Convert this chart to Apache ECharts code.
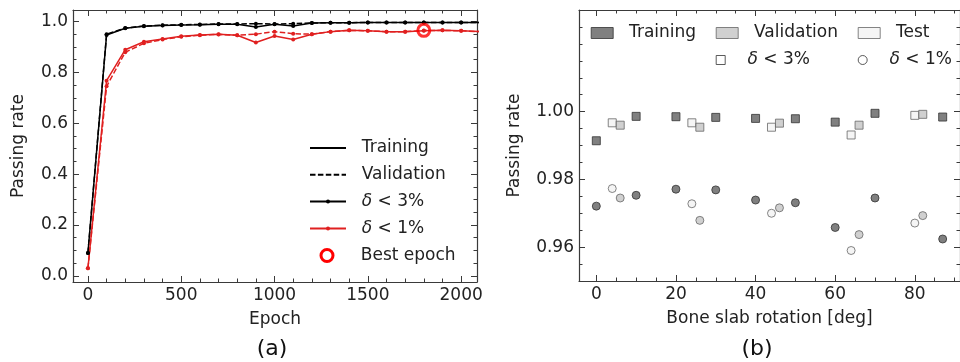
<!DOCTYPE html>
<html>
<head>
<meta charset="utf-8">
<script src="https://cdn.jsdelivr.net/npm/echarts@6/dist/echarts.min.js"></script>
<style>
  html, body { margin: 0; padding: 0; background: #fff; }
  #chart { width: 960px; height: 362px; }
</style>
</head>
<body>
<div id="chart"></div>
<script>
// (a) passing rate vs epoch
const epochs = [0, 100, 200, 300, 400, 500, 600, 700, 800, 900, 1000, 1100, 1200, 1300, 1400, 1500, 1600, 1700, 1800, 1900, 2000, 2100];
const train3 = [0.090, 0.947, 0.973, 0.981, 0.984, 0.986, 0.987, 0.989, 0.989, 0.978, 0.989, 0.982, 0.994, 0.995, 0.995, 0.996, 0.996, 0.996, 0.996, 0.996, 0.996, 0.996];
const valid3 = [0.090, 0.950, 0.974, 0.982, 0.985, 0.987, 0.988, 0.990, 0.990, 0.991, 0.990, 0.991, 0.994, 0.995, 0.995, 0.996, 0.996, 0.996, 0.996, 0.996, 0.996, 0.996];
const train1 = [0.030, 0.767, 0.889, 0.920, 0.931, 0.942, 0.947, 0.950, 0.946, 0.917, 0.943, 0.929, 0.950, 0.960, 0.965, 0.963, 0.960, 0.960, 0.963, 0.965, 0.963, 0.960];
const valid1 = [0.030, 0.745, 0.879, 0.914, 0.929, 0.940, 0.946, 0.949, 0.946, 0.950, 0.960, 0.952, 0.950, 0.960, 0.965, 0.963, 0.960, 0.960, 0.964, 0.965, 0.963, 0.960];
const bestEpoch = [1800, 0.965];

// (b) passing rate vs bone slab rotation
const trainAngles = [0, 10, 20, 30, 40, 50, 60, 70, 87];
const trainRate3 = [0.9914, 0.9986, 0.9985, 0.9983, 0.9980, 0.9979, 0.9969, 0.9995, 0.9984];
const trainRate1 = [0.9721, 0.9753, 0.9771, 0.9769, 0.9739, 0.9731, 0.9658, 0.9745, 0.9624];
const testAngles = [4, 24, 44, 64, 80];
const testRate3 = [0.9967, 0.9967, 0.9954, 0.9931, 0.9989];
const testRate1 = [0.9773, 0.9728, 0.9700, 0.9590, 0.9671];
const validAngles = [6, 26, 46, 66, 82];
const validRate3 = [0.9960, 0.9954, 0.9966, 0.9960, 0.9992];
const validRate1 = [0.9745, 0.9679, 0.9716, 0.9637, 0.9693];

// tick labels
const epochTicks = [0, 500, 1000, 1500, 2000];
const rateTicksA = [0, 0.2, 0.4, 0.6, 0.8, 1.0];
const angleTicks = [0, 20, 40, 60, 80];
const rateTicksB = [0.96, 0.98, 1.00];

const font = 'DejaVu Sans';
const fs = 17;
const ink = '#222';
const axisColor = '#3a3a3a';
const red = '#e02020';

function steps(from, to, step, skip) {
  const out = [];
  for (let v = from; v <= to + 1e-9; v += step) {
    const r = Math.round(v * 1e4) / 1e4;
    if (!skip.some(s => Math.abs(s - r) < 1e-9)) out.push(r);
  }
  return out;
}

// matplotlib-like box: major+minor inward ticks on all four sides
function frame(dim, grid, min, max, majors, minors, fmt, name, nameGap) {
  const sides = dim === 'x' ? ['bottom', 'top'] : ['left', 'right'];
  const out = [];
  sides.forEach((pos, s) => {
    [majors, minors].forEach((vals, m) => {
      const main = s === 0 && m === 0;
      out.push({
        type: 'value',
        gridIndex: grid,
        position: pos,
        min: min,
        max: max,
        name: main ? name : '',
        nameLocation: 'middle',
        nameGap: nameGap,
        nameTextStyle: { fontFamily: font, fontSize: fs, color: ink },
        axisLine: { show: m === 0, onZero: false, lineStyle: { color: axisColor, width: 1.2 } },
        axisTick: { show: true, inside: true, customValues: vals, length: m === 0 ? 6 : 3.5, lineStyle: { color: axisColor, width: 1 } },
        axisLabel: { show: main, customValues: vals, formatter: fmt, margin: 5, fontFamily: font, fontSize: fs, color: ink },
        splitLine: { show: false }
      });
    });
  });
  return out;
}

const pairs = (xs, ys) => xs.map((x, i) => [x, ys[i]]);

function curve(name, ys, color, dashed) {
  return {
    name: name, type: 'line', xAxisIndex: 0, yAxisIndex: 0,
    data: pairs(epochs, ys),
    symbol: 'circle', symbolSize: 4, showSymbol: true,
    lineStyle: { color: color, width: 1.5, type: dashed ? [5.5, 2.4] : 'solid' },
    itemStyle: { color: color },
    clip: true, z: 3
  };
}

// empty series that only feed the legend of panel (a)
function key(name, color, dashed, symbol) {
  return {
    name: name, type: 'line', xAxisIndex: 0, yAxisIndex: 0, data: [],
    symbol: symbol || 'none', symbolSize: 4,
    lineStyle: { color: color, width: 1.5, type: dashed ? [5.5, 2.4] : 'solid' },
    itemStyle: { color: color }
  };
}

const shade = {
  train: { color: '#606060', borderColor: '#333333', borderWidth: 1 },
  valid: { color: '#c4c4c4', borderColor: '#666666', borderWidth: 1 },
  test: { color: '#f2f2f2', borderColor: '#666666', borderWidth: 1 }
};

function dots(name, xs, ys, symbol, style) {
  return {
    name: name, type: 'scatter', xAxisIndex: 4, yAxisIndex: 4,
    data: pairs(xs, ys), symbol: symbol, symbolSize: 8, itemStyle: style
  };
}

const textStyle = {
  fontFamily: font, fontSize: fs, color: ink, lineHeight: 20,
  rich: { i: { fontFamily: font, fontSize: fs, fontStyle: 'italic', color: ink } }
};
const fmtName = n => '  ' + n.replace('δ', '{i|δ}');

function boxLegend(names, left, top, w, h, extra) {
  return Object.assign({
    data: names, left: left, top: top, itemWidth: w, itemHeight: h,
    selectedMode: false, padding: 0, formatter: fmtName, textStyle: textStyle,
    itemStyle: { borderWidth: 1 }
  }, extra || {});
}

const hidden = { opacity: 0 };

const option = {
  backgroundColor: '#fff',
  animation: false,
  grid: [
    { left: 73, right: 483, top: 10, bottom: 80 },
    { left: 579, right: -10, top: 10, bottom: 81 }
  ],
  xAxis: [].concat(
    frame('x', 0, -80, 2085, epochTicks, steps(100, 2000, 100, epochTicks), v => String(v), 'Epoch', 29),
    frame('x', 1, -4.35, 91.35, angleTicks, steps(5, 90, 5, angleTicks), v => String(v), 'Bone slab rotation [deg]', 29)
  ),
  yAxis: [].concat(
    frame('y', 0, -0.024, 1.045, rateTicksA, steps(0.05, 1.0, 0.05, rateTicksA), v => v.toFixed(1), 'Passing rate', 46),
    frame('y', 1, 0.95, 1.03, rateTicksB, steps(0.955, 1.025, 0.005, rateTicksB), v => v.toFixed(2), 'Passing rate', 56)
  ),
  legend: [
    boxLegend([
      { name: 'Training', itemStyle: hidden },
      { name: 'Validation', itemStyle: hidden },
      'δ < 3%', 'δ < 1%'
    ], 309, 138, 36, 5, { orient: 'vertical', itemGap: 6.8, itemStyle: { borderWidth: 0 } }),
    boxLegend(['Best epoch'], 309, 245.5, 36, 15, { itemStyle: { borderWidth: 3 } }),
    boxLegend(['Training '], 590.7, 23, 22, 11),
    boxLegend(['Validation '], 715.7, 23, 22, 11),
    boxLegend(['Test'], 857.7, 23, 22, 11),
    boxLegend([{ name: 'δ < 3% ', icon: 'path://M0,0H10V10H0Z' }], 715.7, 50, 22, 9),
    boxLegend(['δ < 1% '], 857.7, 50, 22, 9)
  ],
  graphic: [
    { type: 'text', x: 272, y: 349, style: { text: '(a)', font: '22px "DejaVu Sans"', fill: '#111', align: 'center', verticalAlign: 'middle' } },
    { type: 'text', x: 757, y: 349, style: { text: '(b)', font: '22px "DejaVu Sans"', fill: '#111', align: 'center', verticalAlign: 'middle' } }
  ],
  series: [
    key('Training', '#000', false),
    key('Validation', '#000', true),
    key('δ < 3%', '#000', false, 'circle'),
    key('δ < 1%', red, false, 'circle'),
    {
      name: 'Best epoch', type: 'line', xAxisIndex: 0, yAxisIndex: 0, data: [],
      symbol: 'circle', lineStyle: { width: 0, opacity: 0 },
      itemStyle: { color: 'rgba(0,0,0,0)', borderColor: '#ff0000', borderWidth: 3 }
    },
    curve('train3', train3, '#000', false),
    curve('valid3', valid3, '#000', true),
    curve('train1', train1, red, false),
    curve('valid1', valid1, red, true),
    {
      name: 'best', type: 'scatter', xAxisIndex: 0, yAxisIndex: 0,
      data: [bestEpoch], symbol: 'circle', symbolSize: 12, z: 5,
      itemStyle: { color: 'rgba(0,0,0,0)', borderColor: '#ff0000', borderWidth: 3 }
    },
    dots('Training ', trainAngles, trainRate3, 'rect', shade.train),
    dots('Test', testAngles, testRate3, 'rect', shade.test),
    dots('Validation ', validAngles, validRate3, 'rect', shade.valid),
    dots('train δ<1%', trainAngles, trainRate1, 'circle', shade.train),
    dots('test δ<1%', testAngles, testRate1, 'circle', shade.test),
    dots('valid δ<1%', validAngles, validRate1, 'circle', shade.valid),
    { name: 'δ < 3% ', type: 'scatter', xAxisIndex: 4, yAxisIndex: 4, data: [], symbol: 'rect',
      itemStyle: { color: '#fff', borderColor: '#333', borderWidth: 1 } },
    { name: 'δ < 1% ', type: 'scatter', xAxisIndex: 4, yAxisIndex: 4, data: [], symbol: 'circle',
      itemStyle: { color: '#fff', borderColor: '#333', borderWidth: 1 } }
  ]
};

const chart = echarts.init(document.getElementById('chart'), null, { renderer: 'canvas' });
chart.setOption(option);
</script>
</body>
</html>
